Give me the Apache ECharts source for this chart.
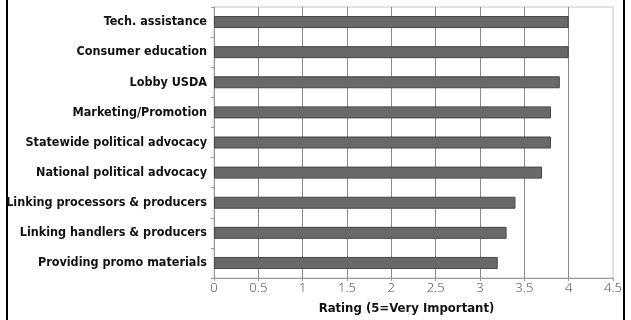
<!DOCTYPE html>
<html>
<head>
<meta charset="utf-8">
<script src="https://cdn.jsdelivr.net/npm/echarts@6/dist/echarts.min.js"></script>
<style>
  html, body { margin: 0; padding: 0; background: #fff; }
  #chart { width: 631px; height: 320px; }
</style>
</head>
<body>
<div id="chart"></div>
<script>
// Importance ratings of association activities
const categories = [
  'Tech. assistance',
  'Consumer education',
  'Lobby USDA',
  'Marketing/Promotion',
  'Statewide political advocacy',
  'National political advocacy',
  'Linking processors & producers',
  'Linking handlers & producers',
  'Providing promo materials'
];
const ratings = [4.0, 4.0, 3.9, 3.8, 3.8, 3.7, 3.4, 3.3, 3.2];
const axisTitle = 'Rating (5=Very Important)';

const chart = echarts.init(document.getElementById('chart'), null, { renderer: 'canvas' });

// Bold condensed face for the category names and axis title
const labelFont = '"DejaVu Sans", sans-serif';
const labelWeight = 'bold condensed';
const tickFont = '"Open Sans", "Liberation Sans", sans-serif';

chart.setOption({
  animation: false,
  backgroundColor: '#ffffff',
  grid: {
    left: 214, right: 18, top: 7, bottom: 42,
    outerBoundsMode: 'none',
    containLabel: false,
    show: true, borderColor: '#c4c4c4', borderWidth: 1
  },
  xAxis: {
    type: 'value',
    min: 0, max: 4.5, interval: 0.5,
    name: axisTitle,
    nameLocation: 'middle',
    nameGap: 24,
    nameTextStyle: {
      fontFamily: labelFont, fontWeight: labelWeight, fontSize: 13, color: '#111',
      padding: [0, 14, 0, 0]
    },
    axisLine: { show: true, lineStyle: { color: '#999', width: 1 } },
    axisTick: { show: true, length: 3, lineStyle: { color: '#999' } },
    axisLabel: {
      fontFamily: tickFont, fontWeight: 300, fontSize: 13, color: '#444', margin: 4,
      formatter: v => String(v)
    },
    splitLine: { show: true, showMaxLine: false, lineStyle: { color: '#8a8a8a', width: 1 } }
  },
  yAxis: {
    type: 'category',
    data: categories,
    inverse: true,
    axisLine: { show: true, lineStyle: { color: '#999', width: 1 } },
    axisTick: { show: true, length: 3, lineStyle: { color: '#999' } },
    axisLabel: {
      fontFamily: labelFont, fontWeight: labelWeight, fontSize: 12.5, color: '#111', margin: 7
    },
    splitLine: { show: false }
  },
  series: [{
    type: 'bar',
    data: ratings,
    barWidth: 12,
    itemStyle: { color: '#696969', borderColor: '#454545', borderWidth: 1 }
  }],
  graphic: [
    { type: 'rect', shape: { x: 6, y: 0, width: 2, height: 320 }, style: { fill: '#000' }, silent: true },
    { type: 'rect', shape: { x: 623, y: 0, width: 2, height: 320 }, style: { fill: '#000' }, silent: true }
  ]
});
</script>
</body>
</html>
